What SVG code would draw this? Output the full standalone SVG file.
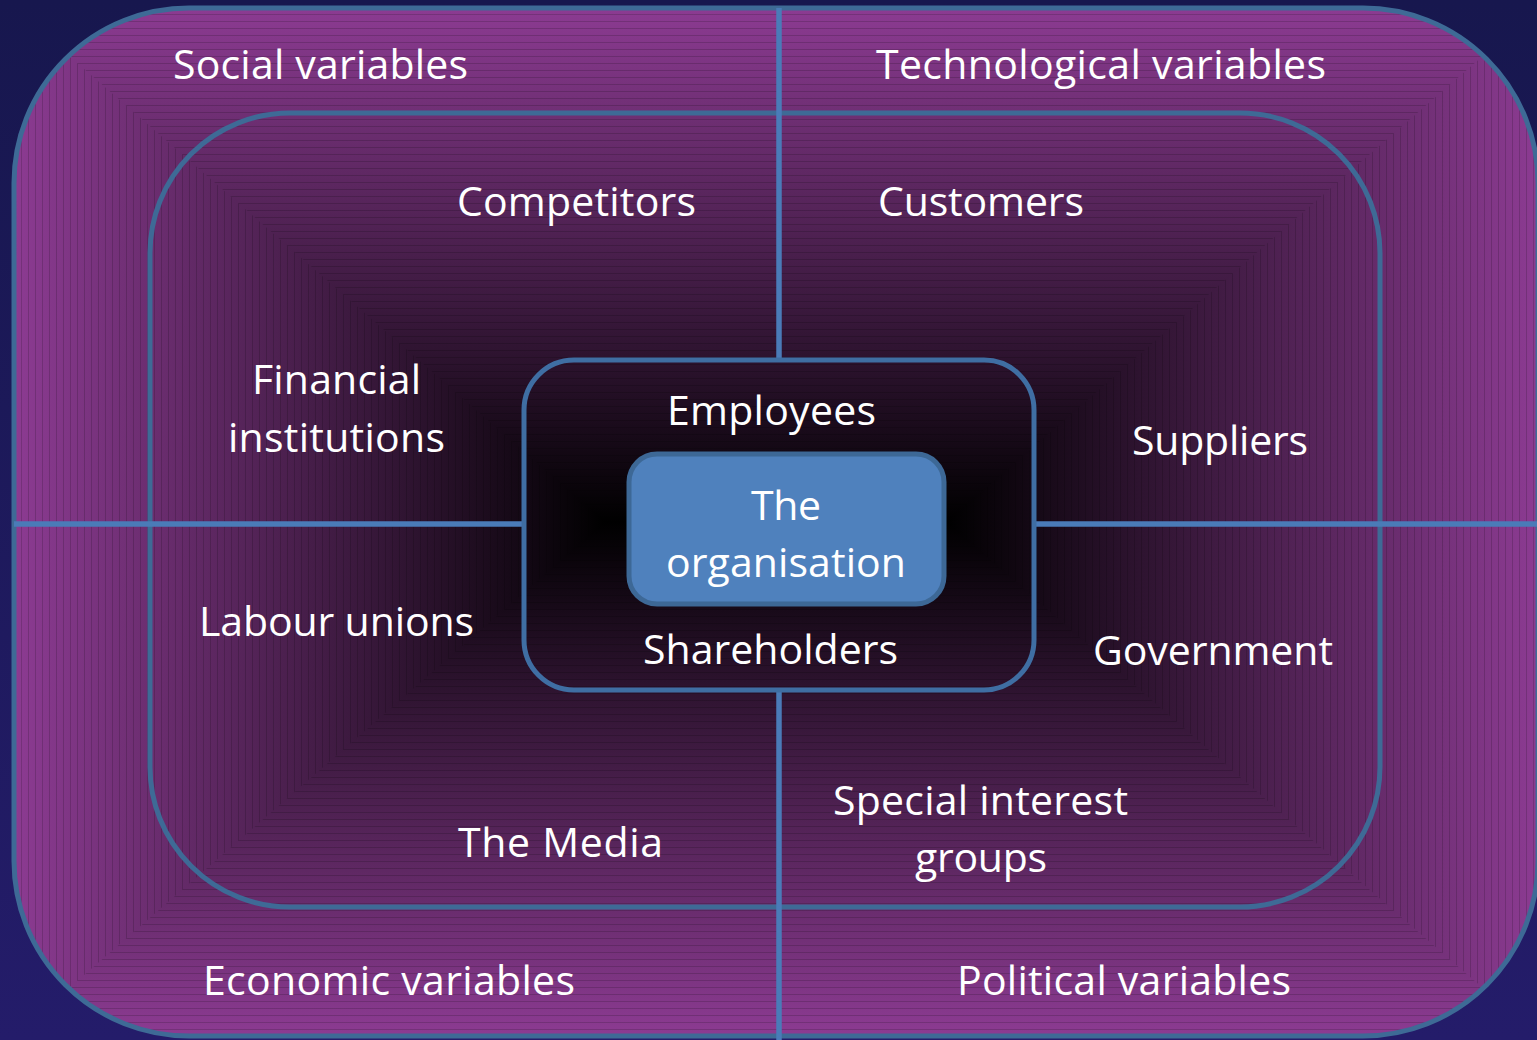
<svg xmlns="http://www.w3.org/2000/svg" width="1537" height="1040" viewBox="0 0 1537 1040">
  <defs>
    <linearGradient id="bg" x1="0" y1="0" x2="0" y2="1">
      <stop offset="0" stop-color="#17174e"/>
      <stop offset="1" stop-color="#241c6a"/>
    </linearGradient>
    <!-- rectangular fade: purple at the rim, black along the centre band -->
    <linearGradient id="gH" gradientUnits="userSpaceOnUse" x1="14" y1="0" x2="1538" y2="0">
      <stop offset="0" stop-color="#8c3b92"/>
      <stop offset="0.388" stop-color="#000000"/>
      <stop offset="0.612" stop-color="#000000"/>
      <stop offset="1" stop-color="#8c3b92"/>
    </linearGradient>
    <linearGradient id="gT" gradientUnits="userSpaceOnUse" x1="0" y1="8" x2="0" y2="522">
      <stop offset="0" stop-color="#8c3b92"/>
      <stop offset="1" stop-color="#000000"/>
    </linearGradient>
    <linearGradient id="gB" gradientUnits="userSpaceOnUse" x1="0" y1="1036" x2="0" y2="522">
      <stop offset="0" stop-color="#8c3b92"/>
      <stop offset="1" stop-color="#000000"/>
    </linearGradient>
    <pattern id="hStripes" patternUnits="userSpaceOnUse" width="7" height="7">
      <rect x="0" y="0" width="7" height="1" fill="#000" fill-opacity="0.16"/>
    </pattern>
    <pattern id="vStripes" patternUnits="userSpaceOnUse" width="7" height="7">
      <rect x="0" y="0" width="1" height="7" fill="#000" fill-opacity="0.16"/>
    </pattern>
    <clipPath id="outerClip">
      <rect x="14" y="8" width="1524" height="1028" rx="175" ry="175"/>
    </clipPath>
  </defs>
  <style>
    .lbl { font-family: "Open Sans", "Noto Sans", "Liberation Sans", sans-serif; font-size: 41px; fill: #ffffff; }
    .ring { fill: none; stroke: #3e6a96; stroke-width: 5; }
    .axis { fill: none; stroke: #4a7bb8; stroke-width: 5.5; }
  </style>

  <rect x="0" y="0" width="1537" height="1040" fill="url(#bg)"/>

  <!-- environment field -->
  <g id="environment">
    <g clip-path="url(#outerClip)">
      <rect x="14" y="8" width="1524" height="1028" fill="url(#gH)"/>
      <polygon points="14,8 1538,8 947,522 605,522" fill="url(#gT)"/>
      <polygon points="14,1036 1538,1036 947,522 605,522" fill="url(#gB)"/>
      <polygon points="14,8 1538,8 947,522 605,522" fill="url(#hStripes)"/>
      <polygon points="14,1036 1538,1036 947,522 605,522" fill="url(#hStripes)"/>
      <polygon points="14,8 605,522 14,1036" fill="url(#vStripes)"/>
      <polygon points="1538,8 947,522 1538,1036" fill="url(#vStripes)"/>
    </g>
    <rect class="ring" x="14" y="8" width="1524" height="1028" rx="175" ry="175"/>
  </g>

  <!-- task environment ring -->
  <g id="task-environment">
    <rect class="ring" x="150" y="113" width="1230" height="794" rx="140" ry="140"/>
  </g>

  <!-- dividing axes -->
  <g id="connectors">
    <line class="axis" x1="779" y1="8" x2="779" y2="360"/>
    <line class="axis" x1="779" y1="690" x2="779" y2="1040"/>
    <line class="axis" x1="14" y1="524" x2="524" y2="524"/>
    <line class="axis" x1="1034" y1="524" x2="1537" y2="524"/>
  </g>

  <!-- internal environment -->
  <g id="internal-environment">
    <rect x="524" y="360" width="510" height="330" rx="50" ry="50" fill="none" stroke="#3f6ea3" stroke-width="5"/>
  </g>

  <g id="organisation">
    <rect x="629" y="454" width="315" height="150" rx="28" ry="28" fill="#4f81bd" stroke="#3d6896" stroke-width="5"/>
    <text class="lbl" x="751" y="520" textLength="70">The</text>
    <text class="lbl" x="666" y="577" textLength="240">organisation</text>
  </g>

  <g id="social"><text class="lbl" x="173" y="79" textLength="295">Social variables</text></g>
  <g id="technological"><text class="lbl" x="876" y="79" textLength="450">Technological variables</text></g>
  <g id="economic"><text class="lbl" x="203" y="995" textLength="372">Economic variables</text></g>
  <g id="political"><text class="lbl" x="957" y="995" textLength="334">Political variables</text></g>

  <g id="competitors"><text class="lbl" x="457" y="216" textLength="239">Competitors</text></g>
  <g id="customers"><text class="lbl" x="878" y="216" textLength="206">Customers</text></g>
  <g id="financial-institutions">
    <text class="lbl" x="252" y="394" textLength="169">Financial</text>
    <text class="lbl" x="228" y="452" textLength="217">institutions</text>
  </g>
  <g id="suppliers"><text class="lbl" x="1132" y="455" textLength="176">Suppliers</text></g>
  <g id="labour-unions"><text class="lbl" x="199" y="636" textLength="275">Labour unions</text></g>
  <g id="government"><text class="lbl" x="1093" y="665" textLength="240">Government</text></g>
  <g id="media"><text class="lbl" x="458" y="857" textLength="205">The Media</text></g>
  <g id="special-interest-groups">
    <text class="lbl" x="833" y="815" textLength="295">Special interest</text>
    <text class="lbl" x="915" y="872" textLength="132">groups</text>
  </g>

  <g id="employees"><text class="lbl" x="667" y="425" textLength="209">Employees</text></g>
  <g id="shareholders"><text class="lbl" x="643" y="664" textLength="255">Shareholders</text></g>
</svg>
